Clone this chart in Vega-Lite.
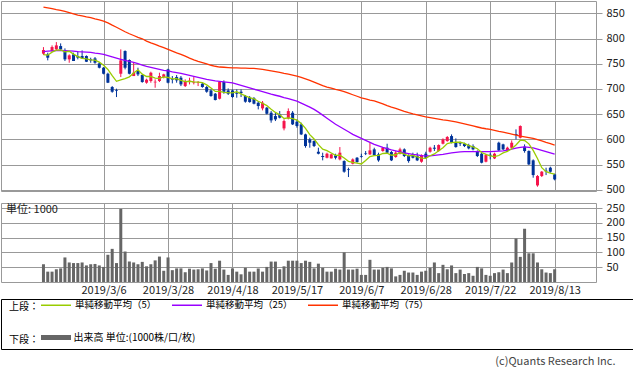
{
  "$schema": "https://vega.github.io/schema/vega-lite/v6.json",
  "padding": 0,
  "background": "white",
  "config": {
    "font": "Noto Sans CJK JP",
    "view": {"stroke": "#999999", "strokeWidth": 1},
    "axis": {"labelFont": "Noto Sans CJK JP", "labelFontSize": 11, "labelColor": "#222222", "gridColor": "#999999", "gridWidth": 1, "tickColor": "#999999", "domain": false, "title": null, "labelOverlap": false},
    "legend": {"padding": 0, "symbolSize": 900}
  },
  "title": {"text": "(c)Quants Research Inc.", "orient": "bottom", "anchor": "end", "fontSize": 11, "fontWeight": "normal", "color": "#444444", "font": "Noto Sans CJK JP", "offset": 6, "dx": -18},
  "data": {"values": [
    {"i":0,"d":"2019/2/14","o":770,"h":783,"l":767.3,"c":777.2,"v":60,"ma5":768,"ma25":774,"ma75":862.5},
    {"i":1,"d":"2019/2/15","o":768.6,"h":771.9,"l":756.7,"c":762,"v":35,"ma5":767,"ma25":775,"ma75":861},
    {"i":2,"d":"2019/2/18","o":775.2,"h":786.4,"l":773.9,"c":783.1,"v":35,"ma5":773,"ma25":775.5,"ma75":859.5},
    {"i":3,"d":"2019/2/19","o":778.5,"h":793,"l":776.5,"c":786.4,"v":43,"ma5":777,"ma25":776,"ma75":857.5},
    {"i":4,"d":"2019/2/20","o":785.1,"h":790.4,"l":775.2,"c":778.5,"v":46,"ma5":777.4,"ma25":776.5,"ma75":856},
    {"i":5,"d":"2019/2/21","o":775.2,"h":780.5,"l":755.4,"c":758.7,"v":83,"ma5":773.7,"ma25":776,"ma75":854},
    {"i":6,"d":"2019/2/22","o":758.7,"h":768.6,"l":752,"c":766.6,"v":66,"ma5":774.7,"ma25":775.5,"ma75":851.5},
    {"i":7,"d":"2019/2/25","o":768.6,"h":771.9,"l":755.4,"c":755.4,"v":64,"ma5":769.1,"ma25":775,"ma75":849},
    {"i":8,"d":"2019/2/26","o":765.3,"h":775,"l":758.7,"c":762,"v":64,"ma5":764.2,"ma25":774,"ma75":846.6},
    {"i":9,"d":"2019/2/27","o":765.3,"h":776.5,"l":760.6,"c":760.6,"v":66,"ma5":760.7,"ma25":773.5,"ma75":845},
    {"i":10,"d":"2019/2/28","o":765.3,"h":766.6,"l":753.4,"c":754,"v":56,"ma5":759.7,"ma25":773,"ma75":843},
    {"i":11,"d":"2019/3/1","o":758.7,"h":762,"l":752,"c":756.7,"v":60,"ma5":757.7,"ma25":772.5,"ma75":841.3},
    {"i":12,"d":"2019/3/4","o":760.6,"h":763.3,"l":750,"c":752,"v":61,"ma5":757.1,"ma25":771,"ma75":839},
    {"i":13,"d":"2019/3/5","o":750.7,"h":753.4,"l":740.8,"c":742.1,"v":56,"ma5":753.1,"ma25":770,"ma75":837},
    {"i":14,"d":"2019/3/6","o":742.1,"h":743.4,"l":728.9,"c":730.2,"v":51,"ma5":747,"ma25":768.6,"ma75":834.7},
    {"i":15,"d":"2019/3/7","o":730.2,"h":732.2,"l":711.7,"c":712.4,"v":92,"ma5":738.7,"ma25":766,"ma75":831},
    {"i":16,"d":"2019/3/8","o":703.8,"h":705.7,"l":692.5,"c":694.5,"v":112,"ma5":726.2,"ma25":763.5,"ma75":826.5},
    {"i":17,"d":"2019/3/11","o":697.8,"h":700.5,"l":683.9,"c":696.5,"v":64,"ma5":715.1,"ma25":761,"ma75":822.5},
    {"i":18,"d":"2019/3/12","o":730.2,"h":778.5,"l":723.6,"c":756.7,"v":247,"ma5":718.1,"ma25":758.7,"ma75":818},
    {"i":19,"d":"2019/3/13","o":775.2,"h":776.5,"l":738.8,"c":742.1,"v":103,"ma5":720.4,"ma25":756.5,"ma75":813.5},
    {"i":20,"d":"2019/3/14","o":757.3,"h":758.7,"l":728.9,"c":730.2,"v":69,"ma5":724,"ma25":754.5,"ma75":809.5},
    {"i":21,"d":"2019/3/15","o":725.6,"h":752,"l":725.6,"c":732.2,"v":66,"ma5":731.5,"ma25":752.5,"ma75":806},
    {"i":22,"d":"2019/3/18","o":735.5,"h":742.1,"l":725.6,"c":728.9,"v":60,"ma5":738,"ma25":750,"ma75":802.5},
    {"i":23,"d":"2019/3/19","o":727.6,"h":728.9,"l":712.4,"c":713.7,"v":68,"ma5":729.4,"ma25":747.5,"ma75":799.5},
    {"i":24,"d":"2019/3/20","o":712.4,"h":720.3,"l":710.4,"c":718.3,"v":53,"ma5":724.7,"ma25":745,"ma75":795},
    {"i":25,"d":"2019/3/22","o":715.7,"h":734.2,"l":712.4,"c":732.2,"v":60,"ma5":725.1,"ma25":743,"ma75":791.5},
    {"i":26,"d":"2019/3/25","o":713,"h":719,"l":702.4,"c":714.3,"v":73,"ma5":721.5,"ma25":741,"ma75":788.5},
    {"i":27,"d":"2019/3/26","o":715.7,"h":732.2,"l":713.7,"c":725.6,"v":86,"ma5":720.8,"ma25":739,"ma75":785},
    {"i":28,"d":"2019/3/27","o":723.6,"h":730.2,"l":721,"c":728.9,"v":38,"ma5":723.9,"ma25":737,"ma75":782},
    {"i":29,"d":"2019/3/28","o":738.8,"h":740.1,"l":711,"c":712.4,"v":83,"ma5":722.7,"ma25":736,"ma75":778.5},
    {"i":30,"d":"2019/3/29","o":719.6,"h":725.6,"l":711,"c":718.3,"v":40,"ma5":719.9,"ma25":734,"ma75":775},
    {"i":31,"d":"2019/4/1","o":723.6,"h":727.6,"l":712.4,"c":717,"v":46,"ma5":720.4,"ma25":732.5,"ma75":771.5},
    {"i":32,"d":"2019/4/2","o":722.3,"h":725.6,"l":705.7,"c":709,"v":46,"ma5":717.1,"ma25":731,"ma75":768.6},
    {"i":33,"d":"2019/4/3","o":705.7,"h":719,"l":703.8,"c":715.7,"v":33,"ma5":714.5,"ma25":729,"ma75":765},
    {"i":34,"d":"2019/4/4","o":715,"h":722.3,"l":709,"c":716.3,"v":45,"ma5":715.3,"ma25":727,"ma75":761},
    {"i":35,"d":"2019/4/5","o":711.7,"h":723.6,"l":709,"c":713,"v":42,"ma5":714.2,"ma25":725,"ma75":757.5},
    {"i":36,"d":"2019/4/8","o":711.7,"h":715.7,"l":705.7,"c":713,"v":43,"ma5":713.4,"ma25":723,"ma75":754.5},
    {"i":37,"d":"2019/4/9","o":710.4,"h":712.4,"l":702.4,"c":703.8,"v":46,"ma5":712.4,"ma25":721,"ma75":752},
    {"i":38,"d":"2019/4/10","o":703.8,"h":705.7,"l":692.5,"c":694.5,"v":39,"ma5":708.1,"ma25":719,"ma75":749.5},
    {"i":39,"d":"2019/4/11","o":697.1,"h":699.1,"l":684.6,"c":685.9,"v":64,"ma5":702,"ma25":717.5,"ma75":747},
    {"i":40,"d":"2019/4/12","o":690.5,"h":691.9,"l":677.3,"c":678,"v":45,"ma5":695,"ma25":716,"ma75":745},
    {"i":41,"d":"2019/4/15","o":680.6,"h":715.7,"l":679.3,"c":713.7,"v":72,"ma5":695.2,"ma25":715,"ma75":743.5},
    {"i":42,"d":"2019/4/16","o":713.7,"h":717,"l":690.5,"c":694.5,"v":42,"ma5":693.3,"ma25":714,"ma75":743},
    {"i":43,"d":"2019/4/17","o":697.1,"h":701.1,"l":688,"c":690.5,"v":24,"ma5":692.5,"ma25":713,"ma75":742.5},
    {"i":44,"d":"2019/4/18","o":697.1,"h":699.1,"l":682.6,"c":683.9,"v":46,"ma5":692.1,"ma25":712,"ma75":742},
    {"i":45,"d":"2019/4/19","o":692.5,"h":699.1,"l":682.6,"c":690.5,"v":35,"ma5":694.6,"ma25":709.5,"ma75":742},
    {"i":46,"d":"2019/4/22","o":694.5,"h":699.1,"l":683.9,"c":691.9,"v":26,"ma5":690.3,"ma25":707,"ma75":741.5},
    {"i":47,"d":"2019/4/23","o":685.9,"h":688,"l":672.7,"c":674.7,"v":48,"ma5":686.3,"ma25":704.5,"ma75":741.5},
    {"i":48,"d":"2019/4/24","o":682.6,"h":685.9,"l":672.7,"c":674,"v":35,"ma5":683,"ma25":702,"ma75":741},
    {"i":49,"d":"2019/4/25","o":681.3,"h":683.9,"l":669.4,"c":670.7,"v":35,"ma5":680.4,"ma25":699.5,"ma75":740.8},
    {"i":50,"d":"2019/4/26","o":672.7,"h":676,"l":659.4,"c":666.1,"v":46,"ma5":675.5,"ma25":697,"ma75":740},
    {"i":51,"d":"2019/5/7","o":661.4,"h":676,"l":657.5,"c":672.7,"v":35,"ma5":671.6,"ma25":694.5,"ma75":739},
    {"i":52,"d":"2019/5/8","o":662.8,"h":664.1,"l":649.5,"c":650.8,"v":51,"ma5":666.9,"ma25":692,"ma75":737.5},
    {"i":53,"d":"2019/5/9","o":652.8,"h":656.1,"l":633,"c":637.6,"v":69,"ma5":659.6,"ma25":689.5,"ma75":736},
    {"i":54,"d":"2019/5/10","o":646.2,"h":652.8,"l":636.3,"c":639.6,"v":69,"ma5":653.4,"ma25":687.5,"ma75":734.5},
    {"i":55,"d":"2019/5/13","o":649.5,"h":656.1,"l":641.6,"c":642.9,"v":43,"ma5":648.7,"ma25":685.5,"ma75":733},
    {"i":56,"d":"2019/5/14","o":621.7,"h":639.6,"l":617.8,"c":636.3,"v":53,"ma5":641.4,"ma25":683,"ma75":731},
    {"i":57,"d":"2019/5/15","o":641.6,"h":661.4,"l":639.6,"c":656.1,"v":72,"ma5":642.5,"ma25":681,"ma75":729.5},
    {"i":58,"d":"2019/5/16","o":652.8,"h":656.1,"l":628.4,"c":629.7,"v":72,"ma5":640.9,"ma25":678.5,"ma75":727.5},
    {"i":59,"d":"2019/5/17","o":635,"h":639.6,"l":623.1,"c":626.4,"v":72,"ma5":638.3,"ma25":676,"ma75":725.6},
    {"i":60,"d":"2019/5/20","o":629.7,"h":633,"l":608.5,"c":609.8,"v":64,"ma5":631.7,"ma25":672,"ma75":723},
    {"i":61,"d":"2019/5/21","o":609.8,"h":611.2,"l":583.4,"c":586.7,"v":72,"ma5":621.7,"ma25":668,"ma75":720},
    {"i":62,"d":"2019/5/22","o":599.9,"h":603.2,"l":583.4,"c":593.3,"v":68,"ma5":609.2,"ma25":664,"ma75":717},
    {"i":63,"d":"2019/5/23","o":596.6,"h":597.9,"l":584.7,"c":586.7,"v":46,"ma5":600.6,"ma25":659.5,"ma75":713.5},
    {"i":64,"d":"2019/5/24","o":575.4,"h":583.4,"l":570.2,"c":571.5,"v":62,"ma5":589.6,"ma25":654,"ma75":710},
    {"i":65,"d":"2019/5/27","o":566.9,"h":573.5,"l":558.3,"c":564.9,"v":48,"ma5":580.6,"ma25":648,"ma75":706.5},
    {"i":66,"d":"2019/5/28","o":563.5,"h":573.5,"l":562.2,"c":571.5,"v":35,"ma5":577.6,"ma25":642,"ma75":703.8},
    {"i":67,"d":"2019/5/29","o":562.2,"h":571.5,"l":562.2,"c":570.2,"v":35,"ma5":573,"ma25":636,"ma75":701.5},
    {"i":68,"d":"2019/5/30","o":568.2,"h":571.5,"l":560.2,"c":563.5,"v":45,"ma5":568.3,"ma25":630,"ma75":699},
    {"i":69,"d":"2019/5/31","o":560.2,"h":584.7,"l":558.3,"c":573.5,"v":42,"ma5":568.7,"ma25":625,"ma75":697},
    {"i":70,"d":"2019/6/3","o":556.9,"h":558.3,"l":533.8,"c":535.8,"v":100,"ma5":562.9,"ma25":620,"ma75":694.5},
    {"i":71,"d":"2019/6/4","o":540.4,"h":543.7,"l":525.2,"c":539.1,"v":42,"ma5":556.4,"ma25":615,"ma75":691.5},
    {"i":72,"d":"2019/6/5","o":551.6,"h":562.2,"l":550.3,"c":560.2,"v":42,"ma5":554.4,"ma25":610,"ma75":688.5},
    {"i":73,"d":"2019/6/6","o":563.5,"h":564.9,"l":553.6,"c":555,"v":45,"ma5":552.7,"ma25":606,"ma75":685.5},
    {"i":74,"d":"2019/6/7","o":566.9,"h":571.5,"l":563.5,"c":565.5,"v":24,"ma5":551.1,"ma25":602,"ma75":682.5},
    {"i":75,"d":"2019/6/10","o":572.1,"h":576.8,"l":568.8,"c":570.8,"v":24,"ma5":558.1,"ma25":598,"ma75":680.5},
    {"i":76,"d":"2019/6/11","o":570.2,"h":593.3,"l":568.8,"c":578.1,"v":75,"ma5":565.9,"ma25":594,"ma75":678},
    {"i":77,"d":"2019/6/12","o":580.1,"h":583.4,"l":566.9,"c":568.8,"v":42,"ma5":567.6,"ma25":590,"ma75":676.5},
    {"i":78,"d":"2019/6/13","o":570.2,"h":573.5,"l":555.6,"c":558.3,"v":42,"ma5":568.3,"ma25":587,"ma75":673.5},
    {"i":79,"d":"2019/6/14","o":576.8,"h":584.7,"l":575.4,"c":583.4,"v":48,"ma5":571.9,"ma25":584,"ma75":670.5},
    {"i":80,"d":"2019/6/17","o":583.4,"h":591.3,"l":571.5,"c":573.5,"v":51,"ma5":572.4,"ma25":581.5,"ma75":667},
    {"i":81,"d":"2019/6/18","o":574.8,"h":576.8,"l":556.9,"c":558.3,"v":46,"ma5":568.5,"ma25":579,"ma75":664},
    {"i":82,"d":"2019/6/19","o":564.9,"h":576.8,"l":563.5,"c":573.5,"v":19,"ma5":569.4,"ma25":577,"ma75":661.4},
    {"i":83,"d":"2019/6/20","o":571.5,"h":583.4,"l":570.2,"c":580.1,"v":24,"ma5":573.8,"ma25":575,"ma75":658.5},
    {"i":84,"d":"2019/6/21","o":580.1,"h":582.1,"l":564.9,"c":566.9,"v":38,"ma5":570.5,"ma25":573,"ma75":655.5},
    {"i":85,"d":"2019/6/24","o":566.9,"h":570.2,"l":553.6,"c":556.9,"v":32,"ma5":567.1,"ma25":571.5,"ma75":652.8},
    {"i":86,"d":"2019/6/25","o":570.2,"h":573.5,"l":562.2,"c":563.5,"v":32,"ma5":568.2,"ma25":570,"ma75":650.5},
    {"i":87,"d":"2019/6/26","o":566.9,"h":573.5,"l":556.9,"c":558.3,"v":24,"ma5":565.1,"ma25":569,"ma75":648.5},
    {"i":88,"d":"2019/6/27","o":555.6,"h":570.2,"l":553.6,"c":568.8,"v":35,"ma5":562.9,"ma25":567.5,"ma75":646.5},
    {"i":89,"d":"2019/6/28","o":571.5,"h":575.4,"l":562.2,"c":563.5,"v":38,"ma5":562.2,"ma25":567,"ma75":644.5},
    {"i":90,"d":"2019/7/1","o":575.4,"h":585.4,"l":573.5,"c":583.4,"v":48,"ma5":567.5,"ma25":567,"ma75":643},
    {"i":91,"d":"2019/7/2","o":583.4,"h":588.7,"l":576.8,"c":581.4,"v":66,"ma5":571.1,"ma25":568,"ma75":641.5},
    {"i":92,"d":"2019/7/3","o":576.8,"h":590,"l":575.4,"c":588.7,"v":30,"ma5":577.2,"ma25":569,"ma75":640},
    {"i":93,"d":"2019/7/4","o":591.3,"h":601.9,"l":590,"c":599.9,"v":58,"ma5":583.4,"ma25":570,"ma75":638.5},
    {"i":94,"d":"2019/7/5","o":596.6,"h":606.5,"l":595.3,"c":604.6,"v":43,"ma5":591.6,"ma25":571.5,"ma75":637.5},
    {"i":95,"d":"2019/7/8","o":606.5,"h":609.8,"l":592,"c":593.3,"v":56,"ma5":593.6,"ma25":573,"ma75":636.3},
    {"i":96,"d":"2019/7/9","o":593.3,"h":601.9,"l":583.4,"c":584.7,"v":30,"ma5":594.2,"ma25":574,"ma75":634.5},
    {"i":97,"d":"2019/7/10","o":592,"h":595.3,"l":586.7,"c":590.7,"v":42,"ma5":594.6,"ma25":575,"ma75":632.5},
    {"i":98,"d":"2019/7/11","o":591.3,"h":593.3,"l":584.7,"c":586.7,"v":27,"ma5":592,"ma25":575.5,"ma75":630.5},
    {"i":99,"d":"2019/7/12","o":588.7,"h":591.3,"l":580.1,"c":582.1,"v":30,"ma5":587.5,"ma25":575.5,"ma75":628.5},
    {"i":100,"d":"2019/7/16","o":586.7,"h":590,"l":578.1,"c":580.1,"v":21,"ma5":584.9,"ma25":575.5,"ma75":626.5},
    {"i":101,"d":"2019/7/17","o":575.4,"h":578.1,"l":564.9,"c":566.9,"v":51,"ma5":581.3,"ma25":575.5,"ma75":624.5},
    {"i":102,"d":"2019/7/18","o":571.5,"h":573.5,"l":552.3,"c":553.6,"v":46,"ma5":573.9,"ma25":575.5,"ma75":622.5},
    {"i":103,"d":"2019/7/19","o":555.6,"h":571.5,"l":554.3,"c":568.8,"v":24,"ma5":570.3,"ma25":575.5,"ma75":621},
    {"i":104,"d":"2019/7/22","o":569.5,"h":573.5,"l":560.2,"c":567.5,"v":21,"ma5":567.4,"ma25":575.5,"ma75":619.8},
    {"i":105,"d":"2019/7/23","o":562.2,"h":573.5,"l":560.9,"c":571.5,"v":30,"ma5":565.7,"ma25":576,"ma75":618},
    {"i":106,"d":"2019/7/24","o":593.3,"h":595.3,"l":576.8,"c":578.1,"v":33,"ma5":567.9,"ma25":576.5,"ma75":616},
    {"i":107,"d":"2019/7/25","o":590,"h":591.3,"l":578.8,"c":580.1,"v":42,"ma5":573.2,"ma25":577,"ma75":614.5},
    {"i":108,"d":"2019/7/26","o":578.8,"h":585.4,"l":576.8,"c":583.4,"v":30,"ma5":576.1,"ma25":578.5,"ma75":612.5},
    {"i":109,"d":"2019/7/29","o":583.4,"h":597.9,"l":582.1,"c":593.3,"v":66,"ma5":581.3,"ma25":580.5,"ma75":610.5},
    {"i":110,"d":"2019/7/30","o":610.5,"h":619.8,"l":599.9,"c":608.5,"v":147,"ma5":588.7,"ma25":582.5,"ma75":608.5},
    {"i":111,"d":"2019/7/31","o":603.2,"h":627.7,"l":601.9,"c":626.4,"v":85,"ma5":598.3,"ma25":584,"ma75":606.5},
    {"i":112,"d":"2019/8/1","o":585.4,"h":590,"l":573.5,"c":576.8,"v":180,"ma5":597.7,"ma25":585,"ma75":605},
    {"i":113,"d":"2019/8/2","o":576.8,"h":578.1,"l":549,"c":550.3,"v":97,"ma5":591.1,"ma25":584,"ma75":603.5},
    {"i":114,"d":"2019/8/5","o":558.3,"h":560.2,"l":523.9,"c":529.1,"v":97,"ma5":578.2,"ma25":583,"ma75":602},
    {"i":115,"d":"2019/8/6","o":508.6,"h":529.1,"l":506,"c":527.2,"v":66,"ma5":562,"ma25":580.5,"ma75":599.5},
    {"i":116,"d":"2019/8/7","o":527.2,"h":537.1,"l":525.2,"c":535.8,"v":43,"ma5":543.8,"ma25":578,"ma75":597},
    {"i":117,"d":"2019/8/8","o":537.8,"h":543.7,"l":529.1,"c":536.4,"v":32,"ma5":535.8,"ma25":575.5,"ma75":594},
    {"i":118,"d":"2019/8/9","o":543.7,"h":545.7,"l":533.8,"c":535.8,"v":30,"ma5":532.9,"ma25":573,"ma75":591.5},
    {"i":119,"d":"2019/8/13","o":530.5,"h":531.8,"l":518.6,"c":520.6,"v":43,"ma5":531.2,"ma25":570.5,"ma75":588.7}
  ]},
  "spacing": 2,
  "vconcat": [
    {
      "bounds": "flush",
      "spacing": 12,
      "vconcat": [
        {
          "width": 595,
          "height": 190,
          "encoding": {
            "x": {"field": "i", "type": "quantitative", "scale": {"domain": [-8.72, 127.46], "nice": false, "zero": false}, "axis": {"values": [14, 29, 44, 59, 74, 89, 104, 119], "grid": true, "labels": false, "ticks": false, "domain": false}}
          },
          "layer": [
            {
              "mark": {"type": "rule", "strokeWidth": 1},
              "encoding": {
                "y": {"field": "l", "type": "quantitative", "scale": {"domain": [497.5, 874.5], "nice": false, "zero": false}, "axis": {"orient": "right", "values": [500, 550, 600, 650, 700, 750, 800, 850], "grid": true, "ticks": true, "tickSize": 6, "labelPadding": 4, "domain": false, "labelOverlap": false}},
                "y2": {"field": "h"},
                "color": {"condition": {"test": "datum.c >= datum.o", "value": "#f5144b"}, "value": "#003399"}
              }
            },
            {
              "mark": {"type": "bar", "size": 3},
              "encoding": {
                "y": {"field": "o", "type": "quantitative", "scale": {"domain": [497.5, 874.5], "nice": false, "zero": false}, "axis": {"orient": "right", "values": [500, 550, 600, 650, 700, 750, 800, 850], "grid": true, "ticks": true, "tickSize": 6, "labelPadding": 4, "domain": false, "labelOverlap": false}},
                "y2": {"field": "c"},
                "color": {"condition": {"test": "datum.c >= datum.o", "value": "#f5144b"}, "value": "#003399"}
              }
            },
            {
              "mark": {"type": "line", "strokeWidth": 1.3},
              "encoding": {
                "y": {"field": "ma75", "type": "quantitative", "scale": {"domain": [497.5, 874.5], "nice": false, "zero": false}, "axis": {"orient": "right", "values": [500, 550, 600, 650, 700, 750, 800, 850], "grid": true, "ticks": true, "tickSize": 6, "labelPadding": 4, "domain": false, "labelOverlap": false}},
                "stroke": {"datum": "ma75", "scale": {"domain": ["ma5", "ma25", "ma75"], "range": ["#99cc00", "#9900ff", "#ff3300"]}, "legend": {"orient": "none", "legendX": 40, "legendY": 288, "direction": "vertical", "columns": 3, "title": null, "symbolType": "stroke", "symbolSize": 900, "symbolStrokeWidth": 1.5, "symbolOffset": -1, "labelFontSize": 9.5, "labelFont": "Noto Sans CJK JP", "labelColor": "#000000", "labelOffset": 3, "columnPadding": 12, "labelLimit": 300, "labelExpr": "datum.label == 'ma5' ? '単純移動平均（5）' : datum.label == 'ma25' ? '単純移動平均（25）　' : '単純移動平均（75）'", "encode": {"symbols": {"update": {"strokeWidth": {"value": 1.5}}}}}}
              }
            },
            {
              "mark": {"type": "line", "strokeWidth": 1.3},
              "encoding": {
                "y": {"field": "ma25", "type": "quantitative", "scale": {"domain": [497.5, 874.5], "nice": false, "zero": false}, "axis": {"orient": "right", "values": [500, 550, 600, 650, 700, 750, 800, 850], "grid": true, "ticks": true, "tickSize": 6, "labelPadding": 4, "domain": false, "labelOverlap": false}},
                "stroke": {"datum": "ma25"}
              }
            },
            {
              "mark": {"type": "line", "strokeWidth": 1.3},
              "encoding": {
                "y": {"field": "ma5", "type": "quantitative", "scale": {"domain": [497.5, 874.5], "nice": false, "zero": false}, "axis": {"orient": "right", "values": [500, 550, 600, 650, 700, 750, 800, 850], "grid": true, "ticks": true, "tickSize": 6, "labelPadding": 4, "domain": false, "labelOverlap": false}},
                "stroke": {"datum": "ma5"}
              }
            }
          ]
        },
        {
          "width": 595,
          "height": 79,
          "title": {"text": "単位: 1000", "anchor": "start", "frame": "group", "offset": -13, "dx": 5, "fontSize": 11, "fontWeight": "normal", "color": "#222222", "font": "Noto Sans CJK JP"},
          "mark": {"type": "bar", "size": 3},
          "encoding": {
            "x": {"field": "i", "type": "quantitative", "scale": {"domain": [-8.72, 127.46], "nice": false, "zero": false}, "axis": {"values": [14, 29, 44, 59, 74, 89, 104, 119], "grid": true, "labels": true, "ticks": false, "domain": false, "labelPadding": 2, "labelFlush": false, "labelOverlap": false, "labelExpr": "['2019/3/6','2019/3/28','2019/4/18','2019/5/17','2019/6/7','2019/6/28','2019/7/22','2019/8/13'][round((datum.value - 14) / 15)]"}},
            "y": {"field": "v", "type": "quantitative", "scale": {"domain": [0, 267], "nice": false}, "axis": {"orient": "right", "values": [50, 100, 150, 200, 250], "grid": true, "ticks": true, "tickSize": 6, "labelPadding": 4, "domain": false, "labelOverlap": false}},
            "fill": {"datum": "vol", "scale": {"domain": ["vol"], "range": ["#666666"]}, "legend": {"orient": "none", "legendX": 40, "legendY": 319, "title": null, "symbolType": "stroke", "symbolSize": 900, "symbolStrokeWidth": 5, "symbolStrokeColor": "#666666", "symbolOffset": -2.5, "labelFontSize": 10, "labelFont": "Noto Sans CJK JP", "labelColor": "#000000", "labelOffset": 0, "labelLimit": 300, "labelExpr": "'出来高 単位:(1000株/口/枚)'", "encode": {"symbols": {"update": {"stroke": {"value": "#666666"}, "strokeWidth": {"value": 5}}}}}}
          }
        }
      ]
    },
    {
      "width": 632,
      "height": 50,
      "title": {"text": ["上段：", "下段："], "anchor": "start", "frame": "group", "offset": -46, "dx": 8, "lineHeight": 33, "fontSize": 10, "fontWeight": "normal", "color": "#000000", "font": "Noto Sans CJK JP"},
      "data": {"values": [{"k": ""}]},
      "view": {"stroke": "#000000", "strokeWidth": 1},
      "mark": {"type": "text"},
      "encoding": {"text": {"field": "k"}}
    }
  ]
}
